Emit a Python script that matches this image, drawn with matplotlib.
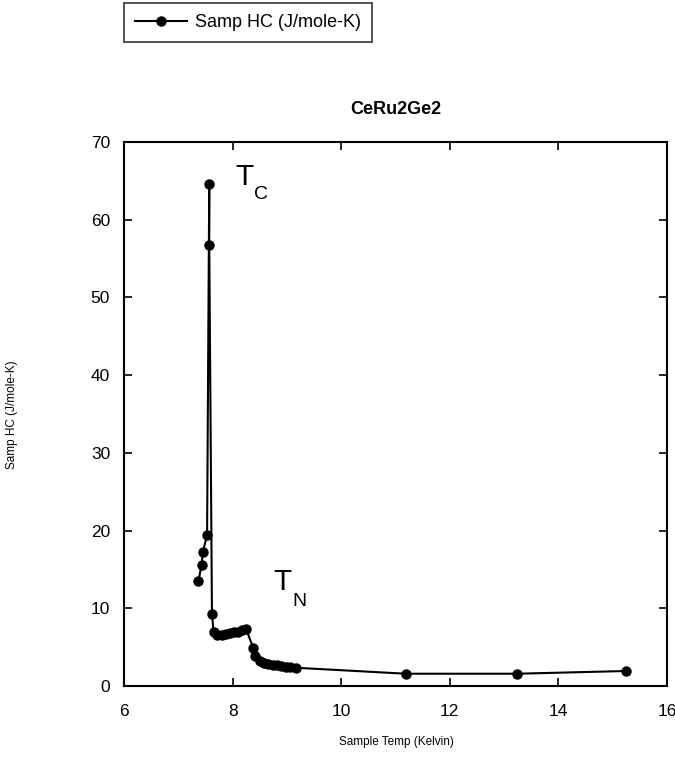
import matplotlib
matplotlib.use("Agg")
import matplotlib.pyplot as plt
from matplotlib.lines import Line2D

plt.rcParams['font.family'] = ['Liberation Sans', 'DejaVu Sans']

temp = [7.37, 7.43, 7.45, 7.53, 7.57, 7.57, 7.62, 7.65, 7.72, 7.80, 7.88, 7.95, 8.03, 8.10, 8.18, 8.25,
        8.38, 8.42, 8.50, 8.58, 8.66, 8.74, 8.82, 8.90, 8.98, 9.06, 9.16,
        11.19, 13.24, 15.25]
hc = [13.5, 15.6, 17.2, 19.4, 64.6, 56.8, 9.3, 6.9, 6.6, 6.6, 6.7, 6.8, 6.9, 7.0, 7.2, 7.3,
      4.9, 3.8, 3.2, 3.0, 2.85, 2.75, 2.65, 2.55, 2.5, 2.45, 2.35,
      1.58, 1.58, 1.93]

title = "CeRu2Ge2"
series_label = "Samp HC (J/mole-K)"
xlabel = "Sample Temp (Kelvin)"
ylabel = "Samp HC (J/mole-K)"
xticks = [6, 8, 10, 12, 14, 16]
yticks = [0, 10, 20, 30, 40, 50, 60, 70]

W, H = 675, 781
fig = plt.figure(figsize=(W / 100, H / 100), dpi=100)
ax = fig.add_axes([124/W, 1-686/H, (667-124)/W, (686-142)/H])
ax.plot(temp, hc, color='black', lw=1.5, marker='o', markersize=6.5)
ax.set_xlim(6, 16)
ax.set_ylim(0, 70)
ax.set_xticks(xticks)
ax.set_yticks(yticks)
ax.tick_params(direction='in', length=6, width=1.2, top=True, right=True, labelsize=12.5)
ax.tick_params(axis='x', pad=13)
ax.tick_params(axis='y', pad=10)
for s in ax.spines.values():
    s.set_linewidth(1.5)

fig.text(396/W, 1-109/H, title, fontsize=13, fontweight='bold', ha='center', va='center')
fig.text(396/W, 1-742/H, xlabel, fontsize=8.5, ha='center', va='center')
fig.text(12/W, 1-415/H, ylabel, fontsize=8.5, ha='center', va='center', rotation=90)

# annotations (T_C and T_N)
fig.text(235/W, 1-185/H, "T", fontsize=21.5, ha='left', va='baseline')
fig.text(254/W, 1-199/H, "C", fontsize=14, ha='left', va='baseline')
fig.text(273/W, 1-590/H, "T", fontsize=21.5, ha='left', va='baseline')
fig.text(292/W, 1-606/H, "N", fontsize=14, ha='left', va='baseline')

handle = Line2D([], [], color='black', lw=1.5, marker='o', markersize=6.5)
leg = fig.legend([handle], [series_label], loc='upper left', bbox_to_anchor=(124/W, 1-3/H),
                 borderaxespad=0, fontsize=13, frameon=True, fancybox=False, edgecolor='black',
                 handlelength=2.9, handletextpad=0.45, borderpad=0.6)
leg.get_frame().set_linewidth(1.2)

fig.savefig("out.png", dpi=100)
